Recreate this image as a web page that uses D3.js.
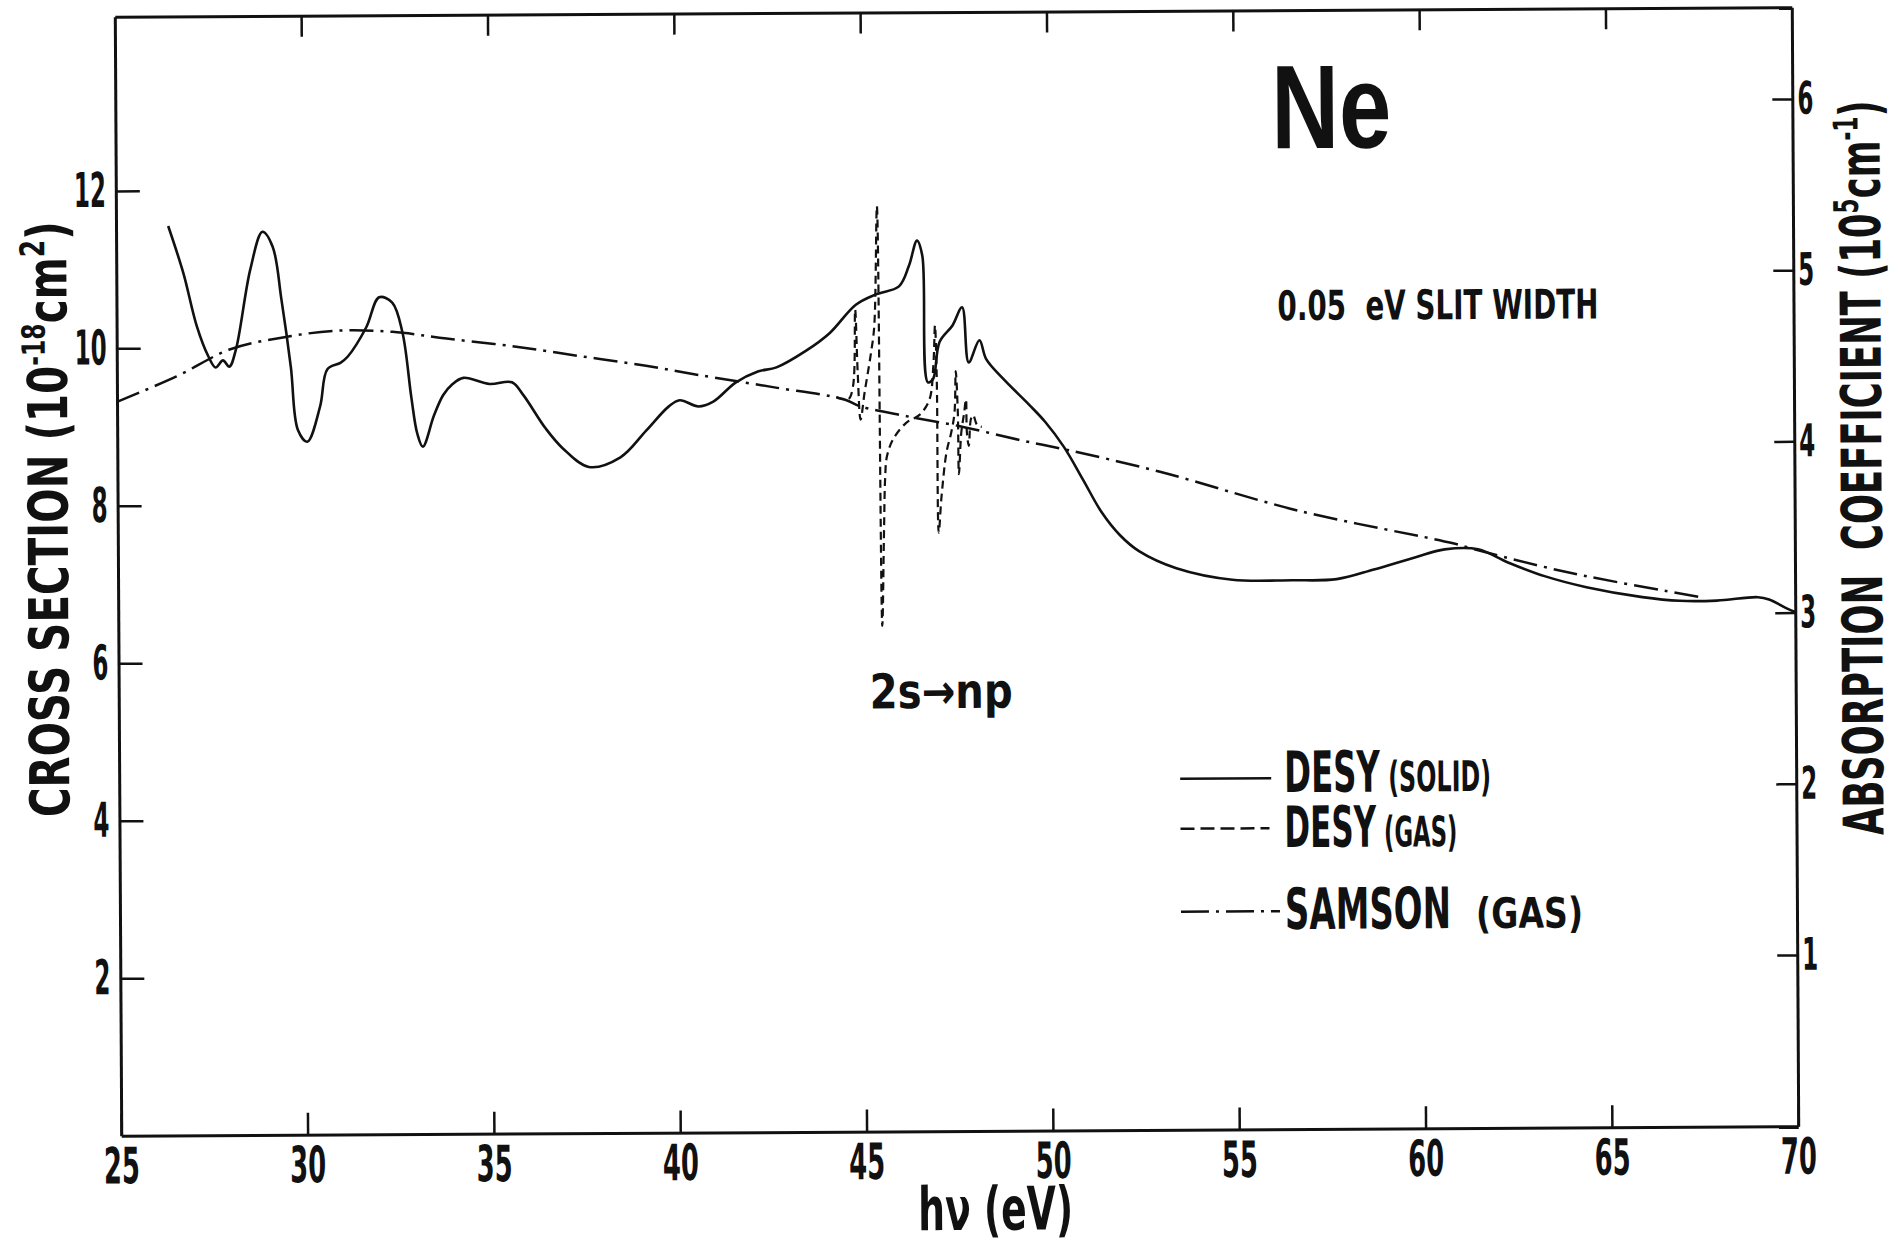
<!DOCTYPE html>
<html>
<head>
<meta charset="utf-8">
<script src="https://cdn.jsdelivr.net/npm/d3@7"></script>
<style>
  body { margin: 0; background: #fff; }
  svg { display: block; }
  text { font-family: 'DejaVu Sans Condensed', 'DejaVu Sans', sans-serif; font-weight: bold; fill: #111; }
</style>
</head>
<body>
<script>
// Ne photoabsorption: photon energy (eV) / cross section (10^-18 cm^2)
var solidE = [26.4, 26.8, 27.15, 27.45, 27.65, 27.85, 28.02, 28.2, 28.6, 28.93, 29.2, 29.43, 29.67, 29.85, 30.1,
  30.45, 30.65, 31.0, 31.2, 31.7, 32.05, 32.4, 32.67, 32.9, 33.05, 33.2, 33.5, 33.75, 34.0, 34.3, 35.0, 35.6,
  35.9, 36.5, 36.95, 37.65, 38.5, 39.2, 39.8, 40.1, 40.6, 41.0, 41.6, 42.2, 42.7, 43.5, 44.13, 44.84, 45.38,
  46.0, 46.27, 46.49, 46.63, 46.76, 46.9, 47.08, 47.43, 47.69, 47.86, 48.15, 48.33, 48.78, 49.49, 49.9, 50.4,
  50.9, 51.4, 51.9, 52.4, 53.4, 54.9, 56.5, 57.7, 58.7, 59.8, 60.6, 61.5, 62.3, 63.3, 64.4, 65.9, 66.9, 67.9,
  69.0, 69.3, 69.8, 70.0];
var solidS = [11.55, 10.95, 10.28, 9.9, 9.75, 9.84, 9.76, 9.98, 11.0, 11.47, 11.28, 10.6, 9.75, 8.95, 8.8,
  9.25, 9.72, 9.8, 9.88, 10.25, 10.63, 10.56, 10.18, 9.35, 8.9, 8.73, 9.12, 9.38, 9.52, 9.6, 9.52, 9.54,
  9.38, 8.95, 8.7, 8.46, 8.58, 8.92, 9.22, 9.3, 9.22, 9.28, 9.52, 9.66, 9.71, 9.92, 10.14, 10.5, 10.63,
  10.73, 10.99, 11.31, 11.12, 9.51, 9.55, 10.02, 10.23, 10.46, 9.76, 10.04, 9.8, 9.55, 9.21, 9.0, 8.68,
  8.27, 7.85, 7.55, 7.35, 7.13, 6.98, 6.97, 6.98, 7.1, 7.25, 7.35, 7.35, 7.18, 7.0, 6.86, 6.73, 6.68, 6.68,
  6.72, 6.69, 6.57, 6.53];

// DESY gas, only drawn through the 2s -> np resonances
var gasE = [44.3, 44.62, 44.75, 44.82, 44.88, 44.95, 45.06, 45.24, 45.33, 45.42, 45.5, 45.56, 45.6, 45.65,
  45.82, 46.18, 46.54, 46.8, 46.91, 46.96, 47.0, 47.03, 47.11, 47.25, 47.38, 47.47, 47.51, 47.56, 47.58,
  47.65, 47.73, 47.78, 47.8, 47.85, 47.91, 47.97, 48.08, 48.2];
var gasS = [9.33, 9.3, 9.46, 10.44, 9.63, 9.04, 9.38, 9.89, 10.22, 11.75, 6.42, 7.6, 8.3, 8.57,
  8.79, 9.0, 9.1, 9.29, 9.72, 10.23, 9.55, 7.6, 8.06, 8.62, 8.87, 9.12, 9.65, 9.12, 8.34,
  8.87, 9.12, 9.29, 8.87, 8.7, 9.04, 9.09, 8.96, 8.94];

// Samson gas
var samsonE = [25.0, 26.6, 28.05, 29.5, 30.95, 32.4, 33.85, 35.6, 37.4, 39.2, 40.6, 42.6, 44.5, 44.94, 46.19,
  47.61, 49.31, 50.5, 52.95, 56.7, 60.8, 61.4, 63.9, 67.4];
var samsonS = [9.32, 9.64, 9.98, 10.13, 10.21, 10.19, 10.1, 10.0, 9.87, 9.74, 9.62, 9.46, 9.3, 9.21, 9.08,
  8.95, 8.76, 8.64, 8.36, 7.85, 7.43, 7.35, 7.05, 6.73];

var xTicks = [25, 30, 35, 40, 45, 50, 55, 60, 65, 70];
var xTopTicks = [30, 35, 40, 45, 50, 55, 60, 65];
var yTicks = [2, 4, 6, 8, 10, 12];
var y2Ticks = [1, 2, 3, 4, 5, 6];

var width = 1898, height = 1248;
var box = { left: 118, right: 1795, top: 12, bottom: 1131 };

var x = d3.scaleLinear().domain([25, 70]).range([box.left, box.right]);
var y = d3.scaleLinear().domain([0, 14.21]).range([box.bottom, box.top]);
var y2 = d3.scaleLinear().domain([0, 6.536]).range([box.bottom, box.top]);

var svg = d3.select("body").append("svg")
  .attr("width", width)
  .attr("height", height);

// the scanned page sits a little crooked
var chart = svg.append("g")
  .attr("transform", "rotate(-0.33,958,570)");

function styleAxis(g, size, lenPerChar) {
  g.attr("font-family", null).attr("font-size", null);
  g.select(".domain").attr("stroke", "#111").attr("stroke-width", 3);
  g.selectAll(".tick line").attr("stroke", "#111").attr("stroke-width", 2.5);
  g.selectAll(".tick text")
    .attr("font-size", size)
    .attr("fill", "#111")
    .attr("lengthAdjust", "spacingAndGlyphs")
    .attr("textLength", function (d) { return String(d).length * lenPerChar; });
}

var intFmt = d3.format("d");

chart.append("g")
  .attr("transform", "translate(0," + box.bottom + ")")
  .call(d3.axisBottom(x).tickValues(xTicks).tickFormat(intFmt)
    .tickSizeInner(-22).tickSizeOuter(0).tickPadding(12))
  .call(styleAxis, 50, 18);

chart.append("g")
  .attr("transform", "translate(0," + box.top + ")")
  .call(d3.axisTop(x).tickValues(xTopTicks).tickSizeInner(-21).tickSizeOuter(0).tickFormat(""))
  .call(styleAxis, 10, 0);

chart.append("g")
  .attr("transform", "translate(" + box.left + ",0)")
  .call(d3.axisLeft(y).tickValues(yTicks).tickFormat(intFmt)
    .tickSizeInner(-24).tickSizeOuter(0).tickPadding(10))
  .call(styleAxis, 48, 16);

chart.append("g")
  .attr("transform", "translate(" + box.right + ",0)")
  .call(d3.axisRight(y2).tickValues(y2Ticks).tickFormat(intFmt)
    .tickSizeInner(-20).tickSizeOuter(0).tickPadding(5))
  .call(styleAxis, 45, 16);

// curves
var line = d3.line()
  .x(function (d) { return x(d[0]); })
  .y(function (d) { return y(d[1]); })
  .curve(d3.curveCatmullRom.alpha(0.5));

chart.append("path")
  .datum(d3.zip(samsonE, samsonS))
  .attr("fill", "none").attr("stroke", "#111").attr("stroke-width", 2.5)
  .attr("stroke-dasharray", "24,7,3,7")
  .attr("d", line);

chart.append("path")
  .datum(d3.zip(gasE, gasS))
  .attr("fill", "none").attr("stroke", "#111").attr("stroke-width", 2.2)
  .attr("stroke-dasharray", "8,5")
  .attr("d", line);

chart.append("path")
  .datum(d3.zip(solidE, solidS))
  .attr("fill", "none").attr("stroke", "#111").attr("stroke-width", 2.6)
  .attr("d", line);

// condensed lettering: shrink the font until the text has the wanted length,
// then stretch it back up to the wanted height
function fitText(parent, tx, ty, rot, parts, len, anchor) {
  var t = parent.append("text")
    .attr("text-anchor", anchor || "start")
    .style("white-space", "pre");
  parts.forEach(function (p) {
    t.append("tspan").attr("font-size", p.size).attr("dy", p.dy || 0).text(p.text);
  });
  var k = len / t.node().getComputedTextLength();
  t.selectAll("tspan")
    .attr("font-size", function (d, i) { return parts[i].size * k; })
    .attr("dy", function (d, i) { return (parts[i].dy || 0) * k; });
  t.attr("transform", "translate(" + tx + "," + ty + ")" +
    (rot ? " rotate(" + rot + ")" : "") + " scale(1," + (1 / k) + ")");
  return t;
}

fitText(chart, 1274, 150, 0, [{ text: "Ne", size: 119 }], 128)
  .style("font-family", "'Liberation Sans', Arial, sans-serif");

fitText(chart, 1279, 322, 0, [{ text: "0.05  eV SLIT WIDTH", size: 41 }], 321);
fitText(chart, 869, 708, 0, [{ text: "2s\u2192np", size: 48 }], 143);

// legend
var legend = chart.append("g");
var legendRows = [
  { dash: null, x2: 1270, y: 780, sub: " (SOLID)", len: 207, ty: 794 },
  { dash: "14,6", x2: 1268, y: 830, sub: " (GAS)", len: 173, ty: 849 }
];
legendRows.forEach(function (r) {
  legend.append("line")
    .attr("x1", 1179).attr("x2", r.x2)
    .attr("y1", r.y).attr("y2", r.y)
    .attr("stroke", "#111").attr("stroke-width", 2.5)
    .attr("stroke-dasharray", r.dash);
  fitText(legend, 1283, r.ty, 0, [{ text: "DESY", size: 57 }, { text: r.sub, size: 42 }], r.len);
});
legend.append("line")
  .attr("x1", 1179).attr("x2", 1278)
  .attr("y1", 913).attr("y2", 913)
  .attr("stroke", "#111").attr("stroke-width", 2.5)
  .attr("stroke-dasharray", "28,7,3,7");
fitText(legend, 1283, 931, 0, [{ text: "SAMSON", size: 57 }], 166);
fitText(legend, 1474, 931, 0, [{ text: "(GAS)", size: 42 }], 107);

// axis titles
fitText(chart, 68, 514, -90, [
  { text: "CROSS SECTION (10", size: 55 },
  { text: "-18", size: 32, dy: -22 },
  { text: "cm", size: 55, dy: 22 },
  { text: "2", size: 34, dy: -22 },
  { text: ")", size: 55, dy: 22 }
], 596, "middle");

fitText(chart, 1882, 473, -90, [
  { text: "ABSORPTION  COEFFICIENT (10", size: 56 },
  { text: "5", size: 34, dy: -22 },
  { text: "cm", size: 56, dy: 22 },
  { text: "-1", size: 34, dy: -22 },
  { text: ")", size: 56, dy: 22 }
], 735, "middle");

fitText(chart, 992, 1230, 0, [{ text: "h\u03bd (eV)", size: 60 }], 155, "middle");
</script>
</body>
</html>
